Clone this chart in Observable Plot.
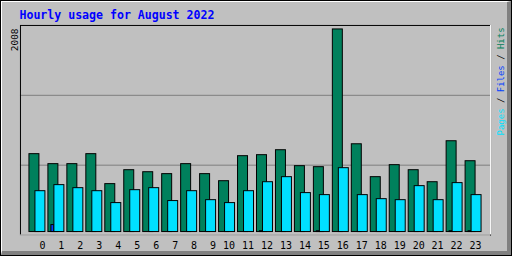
<!DOCTYPE html>
<html><head><meta charset="utf-8">
<script src="https://cdn.jsdelivr.net/npm/d3@7"></script>
<script src="https://cdn.jsdelivr.net/npm/@observablehq/plot@0.6"></script>
<style>
html,body{margin:0;padding:0;background:#fff;}
#wrap{position:relative;width:512px;height:256px;box-sizing:border-box;border:1px solid #000;background:#c0c0c0;overflow:hidden;}
#bevel{position:absolute;left:0;top:0;right:0;bottom:0;border-top:1px solid #fff;border-left:1px solid #fff;border-right:4px solid #808080;border-bottom:4px solid #808080;}
#chart{position:absolute;left:-1px;top:-1px;}
</style></head><body>
<div id="wrap"><div id="bevel"></div><div id="chart"></div></div>
<script>
const title = "Hourly usage for August 2022";
const hours = [0,1,2,3,4,5,6,7,8,9,10,11,12,13,14,15,16,17,18,19,20,21,22,23];
const hourLabels = ["0","1","2","3","4","5","6","7","8","9","10","11","12","13","14","15","16","17","18","19","20","21","22","23"];
const hits  = [772,673,673,772,475,613,593,574,673,574,504,752,762,811,653,643,2008,870,544,663,613,494,900,702];
const files = [0,69,0,0,0,0,0,0,0,0,0,0,8,0,0,8,0,0,0,0,0,0,8,8];
const pages = [405,465,435,405,287,415,435,307,405,316,287,405,494,544,386,366,633,366,326,316,455,316,485,366];
const legendParts = [["Pages","#00e0ff"],[" / ","#000000"],["Files","#0040ff"],[" / ","#000000"],["Hits","#00805c"]];

const data = hours.map((h, i) => ({hour: h, label: hourLabels[i], hits: hits[i], files: files[i], pages: pages[i]}));

const W = 512, H = 256, mL = 20, mR = 21, mT = 25, mB = 21;
const slot = 19, firstBarPx = 29;            // layout of the hour slots
const xDomain = [(mL - firstBarPx) / slot, (W - mR - firstBarPx) / slot];
const maxHits = d3.max(hits);
const u = maxHits / 203;                     // value per pixel
const yDomain = [-3 * u, 207 * u];
const grid = [1, 2].map(k => yDomain[0] + (yDomain[1] - yDomain[0]) * k / 3);
const font = "DejaVu Sans Mono";

const plot = Plot.plot({
  width: W, height: H,
  marginLeft: mL, marginRight: mR, marginTop: mT, marginBottom: mB,
  style: {background: "transparent", fontFamily: font},
  x: {type: "linear", domain: xDomain, axis: null},
  y: {type: "linear", domain: yDomain, axis: null},
  marks: [
    Plot.ruleY(grid, {stroke: "#808080"}),
    Plot.rectY(data, {x1: d => d.hour, x2: d => d.hour + 10 / slot, y1: 0, y2: "hits", fill: "#00805c", stroke: "#000", strokeWidth: 1}),
    Plot.rectY(data, {filter: d => d.files > 0, x1: d => d.hour + 3 / slot, x2: d => d.hour + 6 / slot, y1: 0, y2: "files", fill: "#0040ff", stroke: "#000", strokeWidth: 1}),
    Plot.rectY(data, {x1: d => d.hour + 6 / slot, x2: d => d.hour + 16 / slot, y1: 0, y2: "pages", fill: "#00e0ff", stroke: "#000", strokeWidth: 1}),
    Plot.frame({stroke: "#000"}),
    Plot.ruleX([xDomain[1]], {stroke: "#fff"}),
    Plot.ruleY([yDomain[0]], {stroke: "#fff"}),
    Plot.text(data, {x: d => d.hour + 16 / slot, text: "label", frameAnchor: "bottom", textAnchor: "end", lineAnchor: "bottom", dy: 13.5, fontSize: 10, fill: "#000"}),
    Plot.text([title], {frameAnchor: "top-left", text: d => d, textAnchor: "start", lineAnchor: "bottom", dx: -1, dy: -6, fontSize: 11.6, fontWeight: "bold", fill: "#0000ff"})
  ]
});

const svg = d3.select(plot);
svg.append("text")
  .attr("transform", "translate(18,28.5) rotate(-90)")
  .attr("text-anchor", "end")
  .attr("font-family", font)
  .attr("font-size", 9.5)
  .attr("fill", "#000")
  .text(String(maxHits));

const lg = svg.append("text")
  .attr("transform", "translate(505,27.5) rotate(-90)")
  .attr("text-anchor", "end")
  .attr("font-family", font)
  .attr("font-size", 9)
  .attr("xml:space", "preserve")
  .style("white-space", "pre");
legendParts.forEach(([t, c]) => lg.append("tspan").attr("fill", c).text(t));

document.getElementById("chart").appendChild(plot);
</script>
</body></html>
